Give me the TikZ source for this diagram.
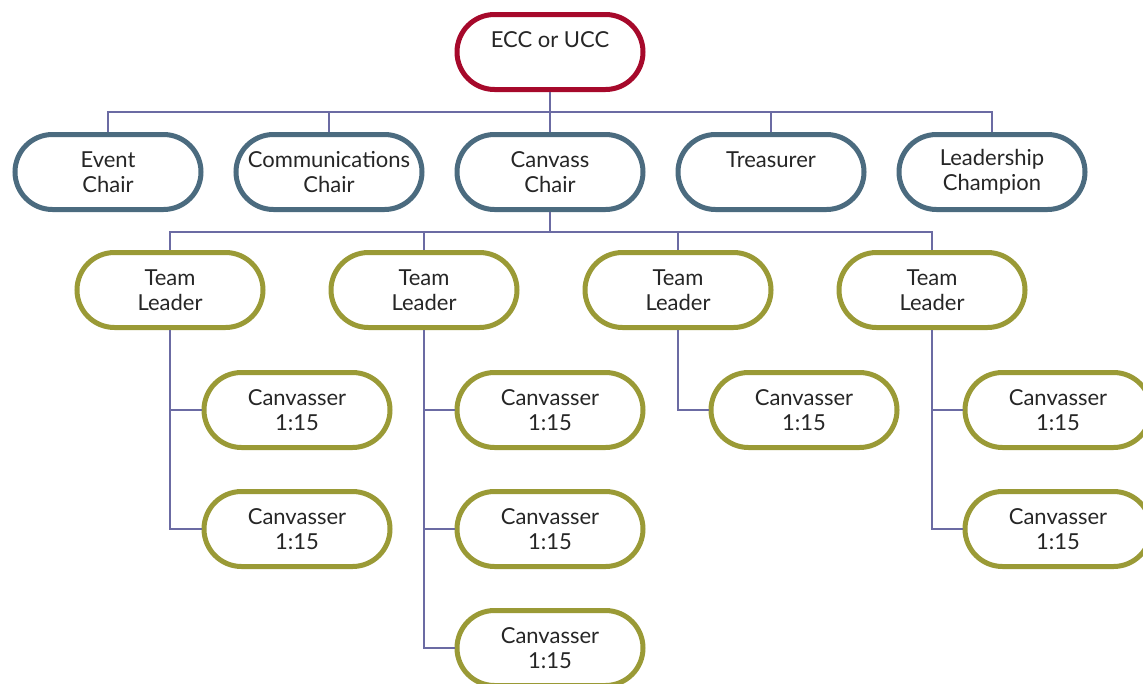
\documentclass[tikz,border=0pt]{standalone}
\usepackage{fontspec}
\setmainfont{Lato}
\usetikzlibrary{positioning, shapes.misc}

\definecolor{topred}{HTML}{A6092B}
\definecolor{chairblue}{HTML}{4B6B7F}
\definecolor{teamolive}{HTML}{9A9A36}
\definecolor{linkviolet}{HTML}{6B6BA3}

\begin{document}
\begin{tikzpicture}[
    font=\fontsize{22pt}{25pt}\selectfont,
    every node/.style={align=center},
    role/.style={rounded rectangle, draw, line width=5pt, fill=white, minimum width=186pt, minimum height=75pt, inner sep=0pt, text=black!85},
    head/.style={role, draw=topred},
    chair/.style={role, draw=chairblue},
    team/.style={role, draw=teamolive},
    link/.style={draw=linkviolet, line width=1.6pt}
]
\useasboundingbox (0,0) rectangle (1143pt,-683pt);

% top and committee chairs
\node[head] (ecc) at (550pt,-52pt) {ECC or UCC\\~};
\node[chair, below=40pt of ecc] (canvass) {Canvass\\Chair};
\node[chair, left=30pt of canvass] (comm) {Communications\\Chair};
\node[chair, left=30pt of comm] (event) {Event\\Chair};
\node[chair, right=30pt of canvass] (treas) {Treasurer\\~};
\node[chair, right=30pt of treas] (champ) {Leadership\\Champion};

% team leaders
\node[team, below=38pt of canvass, xshift=-126pt] (lead2) {Team\\Leader};
\node[team, left=63pt of lead2] (lead1) {Team\\Leader};
\node[team, right=63pt of lead2] (lead3) {Team\\Leader};
\node[team, right=63pt of lead3] (lead4) {Team\\Leader};

% canvassers
\node[team, below=40pt of lead1, xshift=127pt] (can11) {Canvasser\\1:15};
\node[team, below=39pt of can11] (can12) {Canvasser\\1:15};
\node[team, below=40pt of lead2, xshift=126pt] (can21) {Canvasser\\1:15};
\node[team, below=39pt of can21] (can22) {Canvasser\\1:15};
\node[team, below=39pt of can22] (can23) {Canvasser\\1:15};
\node[team, below=40pt of lead3, xshift=126pt] (can31) {Canvasser\\1:15};
\node[team, below=40pt of lead4, xshift=126pt] (can41) {Canvasser\\1:15};
\node[team, below=39pt of can41] (can42) {Canvasser\\1:15};

\coordinate[below=20pt of ecc] (bus1);
\coordinate[below=20pt of canvass] (bus2);

% connectors
\foreach \n in {event, comm, canvass, treas, champ}
    \draw[link] (ecc.south) -- (bus1) -| (\n.north);
\foreach \n in {lead1, lead2, lead3, lead4}
    \draw[link] (canvass.south) -- (bus2) -| (\n.north);
\foreach \l/\c in {lead1/can11, lead1/can12, lead2/can21, lead2/can22, lead2/can23, lead3/can31, lead4/can41, lead4/can42}
    \draw[link] (\l.south) |- (\c.west);
\end{tikzpicture}
\end{document}
